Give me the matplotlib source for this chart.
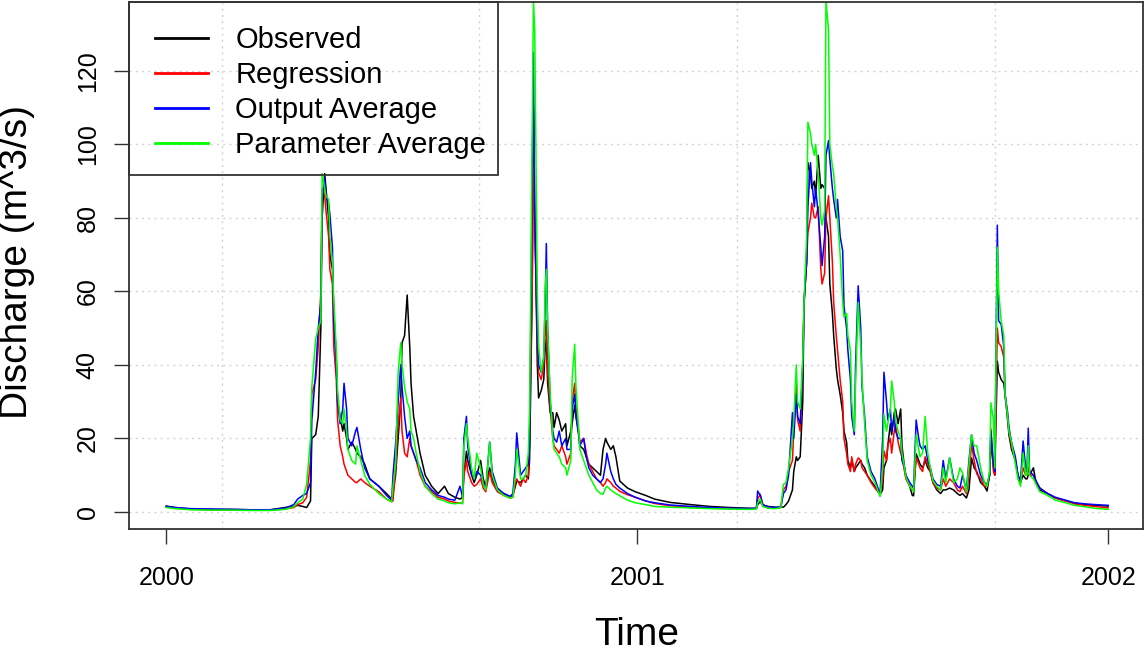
import numpy as np
import matplotlib
matplotlib.use("Agg")
import matplotlib.pyplot as plt
from matplotlib.patches import Rectangle

# day number counted from 2000-01-01
day = [0, 7, 19, 34, 50, 65, 81, 92, 99, 102, 106, 109, 112, 113, 116, 118, 120, 121, 123, 124,
       126, 127, 129, 130, 132, 133, 135, 137, 138, 140, 141, 144, 147, 148, 151, 154, 158, 165, 171, 175,
       176, 178, 180, 182, 183, 185, 187, 189, 190, 192, 194, 197, 201, 206, 211, 216, 219, 224, 228, 230,
       231, 233, 234, 237, 239, 241, 244, 246, 248, 251, 253, 257, 262, 267, 269, 271, 272, 275, 277, 279,
       281, 282, 284, 285, 286, 288, 289, 291, 293, 294, 295, 296, 298, 300, 301, 303, 305, 307, 310, 311,
       314, 315, 317, 318, 320, 321, 324, 326, 328, 331, 334, 337, 339, 341, 342, 345, 347, 349, 352, 358,
       364, 372, 379, 391, 407, 422, 438, 453, 458, 459, 461, 463, 467, 473, 477, 479, 481, 483, 486, 487,
       489, 490, 492, 494, 495, 497, 498, 500, 501, 503, 504, 506, 508, 509, 511, 512, 514, 515, 517, 518,
       520, 521, 523, 525, 526, 528, 529, 531, 532, 534, 535, 537, 539, 540, 542, 544, 547, 550, 554, 556,
       557, 559, 560, 562, 563, 565, 566, 568, 570, 571, 573, 574, 577, 579, 580, 582, 584, 585, 587, 589,
       591, 593, 595, 598, 601, 603, 605, 608, 611, 614, 616, 618, 621, 623, 625, 627, 629, 632, 635, 637,
       639, 640, 642, 643, 645, 646, 648, 650, 651, 653, 654, 656, 659, 661, 663, 665, 667, 668, 669, 670,
       673, 675, 678, 684, 690, 698, 705, 713, 721, 731]

observed = [1.6, 1.2, 0.8, 0.7, 0.7, 0.6, 0.6, 1.2, 1.5, 1.8, 1.5, 1.2, 3.0, 20, 21, 26, 50, 80, 92, 88,
            80, 70, 66, 55, 42, 30, 26, 22, 24, 20, 17, 19, 17, 16, 15, 13, 9, 7, 5, 3.5,
            5, 10, 20, 30, 46, 48, 59, 45, 35, 26, 22, 16, 10, 7, 5, 7, 5, 4, 3.5, 4,
            10, 16.5, 14, 10, 8, 10, 14, 9, 7, 12, 9, 6, 5, 4.2, 4.5, 7, 8.4, 8, 9, 10,
            9, 14, 60, 110, 83, 40, 31, 33, 36, 44, 47, 35, 27, 27, 23, 27, 25, 22, 24, 18,
            22, 24, 29, 26, 22, 18, 17, 15, 13, 12, 11, 10, 17, 20, 19, 17, 18, 15, 8.4, 6.5,
            5.5, 4.5, 3.5, 2.6, 2.0, 1.5, 1.2, 1.0, 1.0, 2.0, 2.8, 1.8, 1.5, 1.3, 1.3, 1.3, 2, 3, 6, 11,
            15, 14, 15, 30, 57, 68, 95, 92, 88, 90, 86, 97, 88, 89, 88, 80, 75, 62, 54, 48,
            39, 36, 32, 27, 22, 19, 14, 12, 14, 11, 12, 13, 14, 13, 12, 10, 8.4, 7, 4.8, 6,
            12, 14, 18, 24, 21, 27, 28, 24, 28, 18, 12, 10, 7, 4.5, 4.4, 15.8, 14, 13, 12, 14,
            12, 11, 8, 6, 5, 6, 6, 6.5, 6, 5, 4.5, 5, 3.8, 6, 14.7, 12, 11, 8, 7, 5.7,
            10, 19.3, 12, 10, 41, 38, 36, 35, 32, 25, 21, 17, 14, 10, 8, 10, 9, 9, 10, 10,
            12, 8, 6, 5, 3.8, 3, 2.4, 2.0, 1.8, 1.6]

regression = [1.4, 1.0, 0.7, 0.6, 0.5, 0.5, 0.5, 0.8, 1.2, 2.0, 2.5, 4.0, 14, 32, 36, 45, 60, 88, 86, 82,
              75, 66, 62, 45, 36, 25, 18, 15, 13, 11, 10, 9, 8, 8, 9, 8, 7, 5.5, 3.5, 2.8,
              3, 12, 24, 31, 22, 16, 15, 20, 18, 16, 14, 10, 7, 5.5, 4, 3.5, 3, 2.6, 2.4, 2.4,
              10, 14, 11, 8, 7, 7.5, 9, 6.5, 5.5, 11, 8, 5.5, 4.5, 3.8, 4, 8, 9, 7, 9, 8,
              10, 22, 60, 95, 80, 45, 38, 36, 40, 48, 52, 38, 28, 20, 18, 17, 16, 18, 15, 13,
              16, 30, 35, 28, 22, 19, 20, 16, 13, 11, 9, 8, 7, 8, 9, 8, 7, 6.5, 5.6, 4.7,
              4, 3, 2.3, 1.7, 1.3, 1.0, 0.9, 0.8, 0.9, 3.5, 4.8, 2, 1.2, 1.0, 1.2, 6, 7, 11, 14, 22,
              35, 25, 22, 40, 57, 68, 76, 80, 84, 80, 80, 83, 66, 62, 65, 80, 86, 80, 68, 57,
              48, 44, 36, 30, 20, 16, 13, 11, 15, 11, 13, 14.7, 14, 12, 11, 10, 8, 6.5, 4.8, 9,
              16.6, 14, 18, 20, 16, 22, 24, 19, 16, 15, 11, 9, 7, 6, 6, 14.7, 13, 12, 11, 15,
              13, 11, 8, 6.5, 6, 9, 7, 9, 8, 6, 5.5, 7, 5, 10, 18.5, 14, 10.4, 9, 7, 7,
              10, 22.6, 11, 10, 50, 46, 45, 42, 32, 26, 22, 18, 14, 10, 8, 12, 10, 10, 12, 10,
              10, 8, 6.5, 5, 3.8, 3, 2.2, 1.8, 1.5, 1.1]

output_avg = [1.5, 1.2, 0.9, 0.8, 0.7, 0.6, 0.6, 1.0, 2.0, 3.5, 4.5, 5.0, 8, 25, 38, 50, 57, 85, 91, 86,
              84, 81, 72, 52, 40, 30, 24, 28, 35, 28, 20, 18, 22, 23, 17, 12, 9, 7, 4.5, 3.2,
              10, 18.5, 30, 40, 34, 26, 20, 22, 18, 16, 14, 12, 8, 6, 4.5, 4, 3.5, 3.2, 7, 4,
              20, 26, 18, 10, 9, 11, 10, 8, 6.5, 19, 11, 6.5, 5, 4.2, 5, 13, 21.5, 10, 11, 12,
              13, 18, 90, 125, 80, 48, 40, 38, 42, 55, 73, 50, 30, 22, 20, 19, 22, 18, 20, 17,
              17, 28, 32, 26, 21, 18, 20, 15, 12, 10, 9, 8, 9, 13, 16, 11, 9, 7.5, 6.5, 5,
              4, 3, 2.5, 1.9, 1.5, 1.2, 1.0, 0.9, 1.0, 5.7, 4.5, 2, 1.4, 1.2, 1.3, 5, 6, 10, 27, 20,
              32, 26, 24, 40, 57, 68, 83, 95, 90, 83, 88, 81, 72, 67, 75, 97, 101, 96, 88, 85,
              80, 85, 75, 71, 56, 50, 44, 36, 26, 21, 40, 61.5, 50, 34, 26, 15, 11, 9, 4.8, 20,
              38, 30, 25, 28, 22, 26, 22, 20, 20, 14, 12, 10, 8, 7, 6.5, 25, 20, 18, 17, 18,
              14, 12, 9, 7.5, 7, 14, 9, 14.7, 9, 7, 6.5, 10, 6, 14, 21, 16, 14, 10, 8, 7.5,
              10, 22, 13, 11, 78, 52, 51, 45, 32, 27, 23, 19, 15, 10, 8.5, 19.3, 12, 11, 22.8, 11,
              10, 8.5, 6.5, 5, 4, 3.2, 2.5, 2.2, 2.0, 1.8]

param_avg = [1.2, 0.9, 0.6, 0.5, 0.5, 0.4, 0.4, 0.7, 1.4, 2.5, 3.5, 7.6, 20, 34, 47, 50, 52, 92, 88, 86,
             85, 75, 68, 58, 44, 33, 25, 24, 28, 22, 17, 14, 13, 18, 14, 10, 7.5, 5, 3.5, 2.8,
             7, 13, 38, 46, 40, 34, 30, 28, 22, 20, 16, 11, 7, 5, 3.5, 3, 2.5, 2.2, 2.5, 2.2,
             18, 24, 20, 12, 9, 16, 12, 7.5, 6, 19, 10, 6, 4.5, 3.8, 4, 10, 17, 9, 9, 10,
             16, 28, 100, 139, 131, 60, 45, 38, 42, 60, 66, 50, 32, 20, 17, 16, 15, 13, 12, 10,
             14, 36, 45.6, 34, 23, 17, 14, 12, 10, 8, 6, 5, 4.8, 6.5, 7, 6, 5.5, 5, 4.4, 3.2,
             2.5, 2, 1.5, 1.3, 1.1, 0.9, 0.8, 0.7, 0.8, 2.5, 3.5, 1.5, 1.0, 0.9, 1.2, 7.5, 8, 12, 20, 25,
             40, 30, 28, 42, 57, 75, 106, 103, 100, 97, 100, 92, 80, 78, 82, 139, 131, 100, 94, 92,
             83, 80, 70, 57, 53, 54, 48, 44, 30, 22, 35, 57, 45, 36, 24, 14, 10, 8, 4.2, 12,
             26.6, 22, 24, 28, 35.6, 30, 25, 22, 20, 16, 12, 9.5, 7, 6, 5.5, 21, 17, 15, 16, 26,
             16, 12, 8.5, 7, 6, 12, 8, 14.7, 8, 9, 12, 10.6, 5.5, 13, 21, 18, 18, 12, 8, 7,
             11, 29.7, 25, 12, 72, 60, 52, 48, 32, 26, 22, 19, 13, 9, 7, 16, 10, 10, 18, 10,
             9, 7.5, 5.5, 4.5, 3.2, 2.5, 1.8, 1.4, 1.0, 0.7]

# where the dotted vertical grid lines sit (days)
grid_days = [43, 243, 443, 643]
year_ticks = [2000, 2001, 2002]

# day -> decimal year
x = 2000 + np.array(day) / 365.5
grid_x = 2000 + np.array(grid_days) / 365.5

plt.rcParams['font.family'] = ['Liberation Sans', 'DejaVu Sans']

fig = plt.figure(figsize=(11.46, 6.55), dpi=100)
ax = fig.add_axes([129 / 1146, 1 - 528.5 / 655, (1143 - 129) / 1146, (528.5 - 2) / 655])

# grid first so lines sit on top
for gx in grid_x:
    ax.axvline(gx, color='#d3d3d3', linestyle=(0, (1.5, 3)), linewidth=1.0, zorder=0)
for gy in range(0, 121, 20):
    ax.axhline(gy, color='#d3d3d3', linestyle=(0, (1.5, 3)), linewidth=1.0, zorder=0)

ax.plot(x, observed, color='black', linewidth=1.1, label='Observed')
ax.plot(x, regression, color='red', linewidth=1.1, label='Regression')
ax.plot(x, output_avg, color='blue', linewidth=1.1, label='Output Average')
ax.plot(x, param_avg, color='#00ff00', linewidth=1.1, label='Parameter Average')

ax.set_xlim(1999.921, 2002.074)
ax.set_ylim(-4.5, 138.7)

ax.set_xticks(year_ticks)
ax.set_xticklabels([str(t) for t in year_ticks])
ax.set_yticks(range(0, 121, 20))
ax.tick_params(axis='both', direction='out', length=11, width=1.0, labelsize=18, color='#333333')
ax.tick_params(axis='x', pad=16)
ax.tick_params(axis='y', pad=10)
for lab in ax.get_yticklabels():
    lab.set_rotation(90)
    lab.set_va('center')

for sp in ax.spines.values():
    sp.set_linewidth(1.3)
    sp.set_color('#333333')

# axis titles
fig.text(17 / 1146, 1 - 262 / 655, 'Discharge (m^3/s)', rotation=90, ha='center', va='center', fontsize=28)
fig.text(637 / 1146, 1 - 635 / 655, 'Time', ha='center', va='center', fontsize=28)

# legend without its own frame, R-style box drawn separately
leg = ax.legend(loc='upper left', bbox_to_anchor=(0.0256, 0.9544), borderaxespad=0, fontsize=21,
                handlelength=1.82, handletextpad=0.93, labelspacing=0.24, borderpad=0,
                frameon=False)
for line in leg.get_lines():
    line.set_linewidth(2.0)
box = Rectangle((0, 1 - 173 / 526.5), 369 / 1014, 173 / 526.5, transform=ax.transAxes,
                fill=False, edgecolor='#333333', linewidth=1.3, clip_on=False, zorder=5)
ax.add_patch(box)

fig.savefig('out.png', dpi=100)
